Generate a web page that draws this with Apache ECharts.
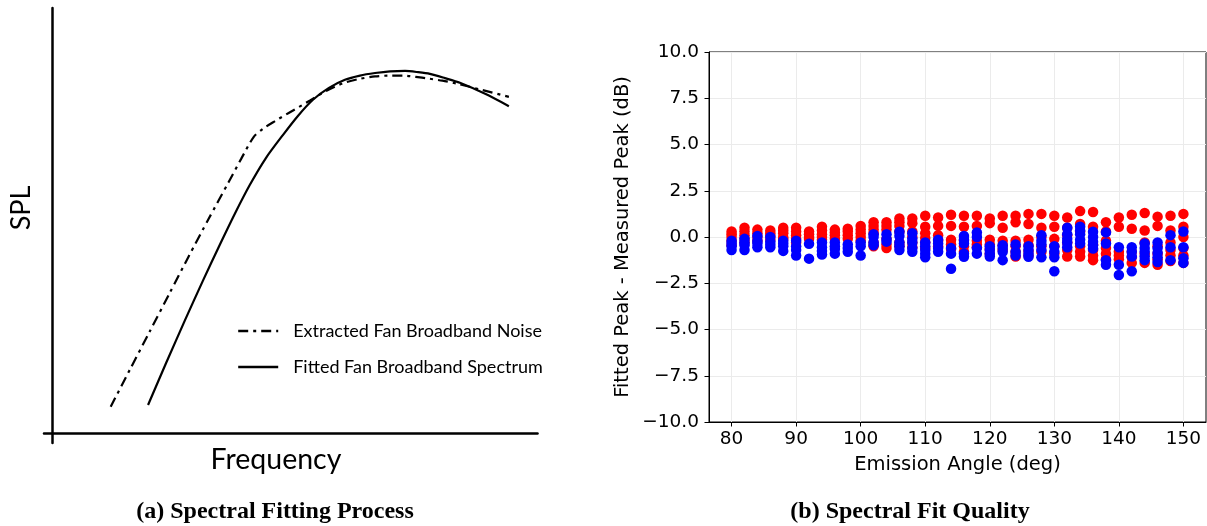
<!DOCTYPE html>
<html>
<head>
<meta charset="utf-8">
<script src="https://cdn.jsdelivr.net/npm/echarts@6/dist/echarts.min.js"></script>
<style>
  html, body { margin: 0; padding: 0; background: #fff; }
  #chart { width: 1207px; height: 526px; }
</style>
</head>
<body>
<div id="chart"></div>
<script>
// ---- (a) schematic spectra: frequency / SPL in arbitrary units (0-100) ----
const extractedFreq = [12.1, 16.1, 20.2, 24.2, 28.2, 32.3, 36.4, 39.0, 41.6, 43.5, 46.0, 48.8, 53.3, 56.7, 60.0, 63.3, 66.6, 69.5, 72.5, 75.0, 77.6, 80.5, 83.5, 88.7, 94.2];
const extractedSpl  = [6.2, 15.0, 24.0, 32.8, 41.6, 50.4, 59.0, 64.5, 69.7, 71.6, 73.4, 75.3, 78.3, 80.6, 82.3, 83.3, 83.9, 84.1, 84.1, 83.8, 83.4, 82.9, 82.2, 80.7, 79.1];
const fittedFreq = [19.8, 23.5, 27.4, 31.1, 34.6, 37.7, 40.8, 44.1, 47.6, 50.7, 53.8, 57.1, 60.4, 63.5, 66.6, 69.7, 72.8, 75.5, 77.9, 81.0, 84.1, 89.3, 94.2];
const fittedSpl  = [6.6, 16.4, 26.5, 35.8, 44.3, 51.6, 58.4, 64.7, 70.1, 74.6, 78.4, 81.2, 83.1, 84.1, 84.7, 85.1, 85.2, 84.9, 84.5, 83.5, 82.4, 79.8, 76.9];

// ---- (b) fitted minus measured peak level per emission angle ----
const angles = [80, 82, 84, 86, 88, 90, 92, 94, 96, 98, 100, 102, 104, 106, 108, 110, 112, 114,
                116, 118, 120, 122, 124, 126, 128, 130, 132, 134, 136, 138, 140, 142, 144, 146, 148, 150];
const angleTicks = [80, 90, 100, 110, 120, 130, 140, 150];

const redPeakDelta = [
  [0.3, 0.15, 0.0, -0.2, -0.45],
  [0.5, 0.3, 0.1, -0.1, -0.3],
  [0.4, 0.2, 0.0, -0.2],
  [0.35, 0.2, 0.05, -0.15],
  [0.5, 0.35, 0.2, 0.0, -0.1],
  [0.5, 0.3, 0.1, -0.1, -0.3],
  [0.3, 0.15, 0.0, -0.1],
  [0.55, 0.35, 0.15, 0.0, -0.15],
  [0.4, 0.25, 0.1, -0.1],
  [0.45, 0.3, 0.1, -0.1],
  [0.6, 0.4, 0.2, 0.0, -0.2],
  [0.8, 0.6, 0.4, 0.2, -0.3, -0.5],
  [0.8, 0.6, 0.4, -0.1, -0.4, -0.6],
  [1.0, 0.8, 0.6, 0.3, -0.3, -0.5],
  [1.0, 0.75, 0.3, 0.0, -0.3, -0.55],
  [1.15, 0.55, 0.2, -0.05, -0.3, -0.6],
  [1.05, 0.6, 0.1, -0.2, -0.5],
  [1.2, 0.6, -0.15, -0.4, -0.65],
  [1.15, 0.55, -0.2, -0.5, -0.8],
  [1.15, 0.6, -0.2, -0.4, -0.55],
  [1.0, 0.75, -0.15, -0.4, -0.65, -0.9],
  [1.15, 0.5, -0.2, -0.45, -0.7],
  [1.15, 0.8, -0.2, -0.5, -0.8, -1.05],
  [1.25, 0.7, -0.15, -0.45, -0.75, -1.0],
  [1.25, 0.5, 0.0, -0.5, -0.8],
  [1.15, 0.55, -0.1, -0.5, -0.9],
  [1.05, 0.5, 0.1, -0.3, -0.7, -1.05],
  [1.4, 0.7, 0.3, -0.5, -0.8, -1.05],
  [1.35, 0.55, -0.4, -0.7, -1.0, -1.25],
  [0.8, 0.3, -0.2, -0.6, -0.9, -1.2],
  [1.05, 0.55, -0.8, -1.0, -1.2],
  [1.2, 0.45, -0.8, -1.1, -1.4],
  [1.3, 0.35, -0.3, -0.9, -1.4],
  [1.1, 0.6, -0.5, -0.9, -1.2, -1.5],
  [1.15, 0.35, -0.3, -0.7, -1.0, -1.3],
  [1.25, 0.55, 0.0, -0.6, -1.0, -1.4]
];

const bluePeakDelta = [
  [-0.2, -0.35, -0.5, -0.7],
  [-0.1, -0.3, -0.45, -0.7],
  [0.05, -0.2, -0.35, -0.55],
  [0.0, -0.25, -0.4, -0.55],
  [-0.2, -0.35, -0.5, -0.75],
  [-0.2, -0.5, -0.7, -1.0],
  [-0.37, -1.17],
  [-0.3, -0.55, -0.75, -0.95],
  [-0.3, -0.5, -0.65, -0.9],
  [-0.4, -0.6, -0.8],
  [-0.3, -0.5, -1.0],
  [0.15, 0.0, -0.3, -0.45],
  [0.15, -0.1, -0.25],
  [0.28, 0.05, -0.3, -0.5, -0.7],
  [0.2, -0.1, -0.3, -0.6, -0.8],
  [-0.3, -0.5, -0.7, -0.9, -1.1],
  [-0.15, -0.35, -0.6, -0.8],
  [-0.6, -0.9, -1.72],
  [0.05, -0.15, -0.35, -0.9, -1.07],
  [0.25, 0.0, -0.6, -0.9],
  [-0.5, -0.7, -0.9, -1.05],
  [-0.45, -0.6, -0.8, -1.25],
  [-0.4, -0.8, -1.0],
  [-0.5, -0.7, -0.9, -1.07],
  [0.1, -0.2, -0.4, -0.7, -1.1],
  [-0.5, -0.8, -1.1, -1.85],
  [0.5, 0.15, -0.1, -0.3, -0.55],
  [0.55, 0.35, 0.15, -0.15, -0.35],
  [0.28, 0.0, -0.25, -0.45, -0.62],
  [0.25, -0.35, -1.25, -1.5],
  [-0.55, -1.5, -2.05],
  [-0.55, -0.8, -1.05, -1.85],
  [-0.35, -0.6, -0.8, -1.05, -1.25],
  [-0.3, -0.6, -0.85, -1.1, -1.35],
  [0.1, -0.55, -1.25],
  [0.3, -0.55, -1.15, -1.4]
];

const zip = (xs, ys) => xs.map((x, i) => [x, ys[i]]);
const toPoints = (lists) => angles.flatMap((a, i) => lists[i].map(v => [a, v]));
const mplNum = (v) => v.toFixed(1).replace('-', '\u2212');

const sansPy = 'DejaVu Sans';
const sansDoc = 'Lato';

const chart = echarts.init(document.getElementById('chart'), null, { renderer: 'canvas' });

chart.setOption({
  animation: false,
  backgroundColor: '#fff',
  grid: [
    { left: 44, top: 8, width: 493.5, height: 435, show: false },
    { left: 709, top: 52, width: 497, height: 370, show: true,
      borderColor: '#000', borderWidth: 1, backgroundColor: 'transparent' }
  ],
  xAxis: [
    {
      gridIndex: 0, type: 'value', min: -1.65, max: 100.1,
      axisLine: { onZero: true, lineStyle: { color: '#000', width: 2.5 } },
      axisTick: { show: false }, axisLabel: { show: false }, splitLine: { show: false }
    },
    {
      gridIndex: 1, type: 'value', min: 76.5, max: 153.5,
      axisLine: { onZero: false, lineStyle: { color: '#000', width: 1 } },
      axisTick: { customValues: angleTicks, length: 4.5, lineStyle: { color: '#000' } },
      axisLabel: { customValues: angleTicks, margin: 8, color: '#000', fontSize: 18.5, fontFamily: sansPy },
      splitLine: { show: true, lineStyle: { color: '#ebebeb', width: 1 } },
      name: 'Emission Angle (deg)', nameLocation: 'middle', nameGap: 33,
      nameTextStyle: { color: '#000', fontSize: 19.5, fontFamily: sansPy }
    }
  ],
  yAxis: [
    {
      gridIndex: 0, type: 'value', min: -2.35, max: 100,
      axisLine: { onZero: true, lineStyle: { color: '#000', width: 2.5 } },
      axisTick: { show: false }, axisLabel: { show: false }, splitLine: { show: false }
    },
    {
      gridIndex: 1, type: 'value', min: -10, max: 10, interval: 2.5,
      axisLine: { onZero: false, lineStyle: { color: '#000', width: 1 } },
      axisTick: { length: 4.5, lineStyle: { color: '#000' } },
      axisLabel: { margin: 10, color: '#000', fontSize: 18.5, fontFamily: sansPy, formatter: mplNum },
      splitLine: { show: true, lineStyle: { color: '#ebebeb', width: 1 } },
      name: 'Fitted Peak - Measured Peak (dB)', nameLocation: 'middle', nameGap: 76, nameRotate: 90,
      nameTextStyle: { color: '#000', fontSize: 19.5, fontFamily: sansPy }
    }
  ],
  legend: {
    data: ['Extracted Fan Broadband Noise', 'Fitted Fan Broadband Spectrum'],
    orient: 'vertical', left: 232, top: 317,
    itemWidth: 40, itemHeight: 14, itemGap: 18,
    selectedMode: false,
    itemStyle: { color: 'rgba(0,0,0,0)', borderWidth: 0, opacity: 0 },
    lineStyle: { width: 2.4 },
    textStyle: { color: '#000', fontSize: 18, fontFamily: sansDoc, padding: [0, 0, 0, 10] }
  },
  graphic: [
    { type: 'text', x: 21, y: 208, rotation: Math.PI / 2,
      style: { text: 'SPL', font: '27px Lato', fill: '#000', textAlign: 'center', textVerticalAlign: 'middle' } },
    { type: 'text', x: 276, y: 460,
      style: { text: 'Frequency', font: '28.5px Lato', fill: '#000', textAlign: 'center', textVerticalAlign: 'middle' } },
    { type: 'text', x: 275, y: 512,
      style: { text: '(a) Spectral Fitting Process', font: 'bold 24px "Liberation Serif"', fill: '#000', textAlign: 'center', textVerticalAlign: 'middle' } },
    { type: 'text', x: 910, y: 512,
      style: { text: '(b) Spectral Fit Quality', font: 'bold 24px "Liberation Serif"', fill: '#000', textAlign: 'center', textVerticalAlign: 'middle' } }
  ],
  series: [
    {
      name: 'Extracted Fan Broadband Noise', type: 'line', xAxisIndex: 0, yAxisIndex: 0,
      data: zip(extractedFreq, extractedSpl), smooth: 0.25, symbol: 'none',
      lineStyle: { color: '#000', width: 2.2, type: [10, 5, 3, 5] },
      itemStyle: { color: '#000' }
    },
    {
      name: 'Fitted Fan Broadband Spectrum', type: 'line', xAxisIndex: 0, yAxisIndex: 0,
      data: zip(fittedFreq, fittedSpl), smooth: 0.25, symbol: 'none',
      lineStyle: { color: '#000', width: 2.2, type: 'solid' },
      itemStyle: { color: '#000' }
    },
    {
      name: 'Red cases', type: 'scatter', xAxisIndex: 1, yAxisIndex: 1,
      data: toPoints(redPeakDelta), symbolSize: 10.5,
      itemStyle: { color: '#ff0000', opacity: 1 }
    },
    {
      name: 'Blue cases', type: 'scatter', xAxisIndex: 1, yAxisIndex: 1,
      data: toPoints(bluePeakDelta), symbolSize: 10.5,
      itemStyle: { color: '#0000ff', opacity: 1 }
    }
  ]
});
</script>
</body>
</html>
